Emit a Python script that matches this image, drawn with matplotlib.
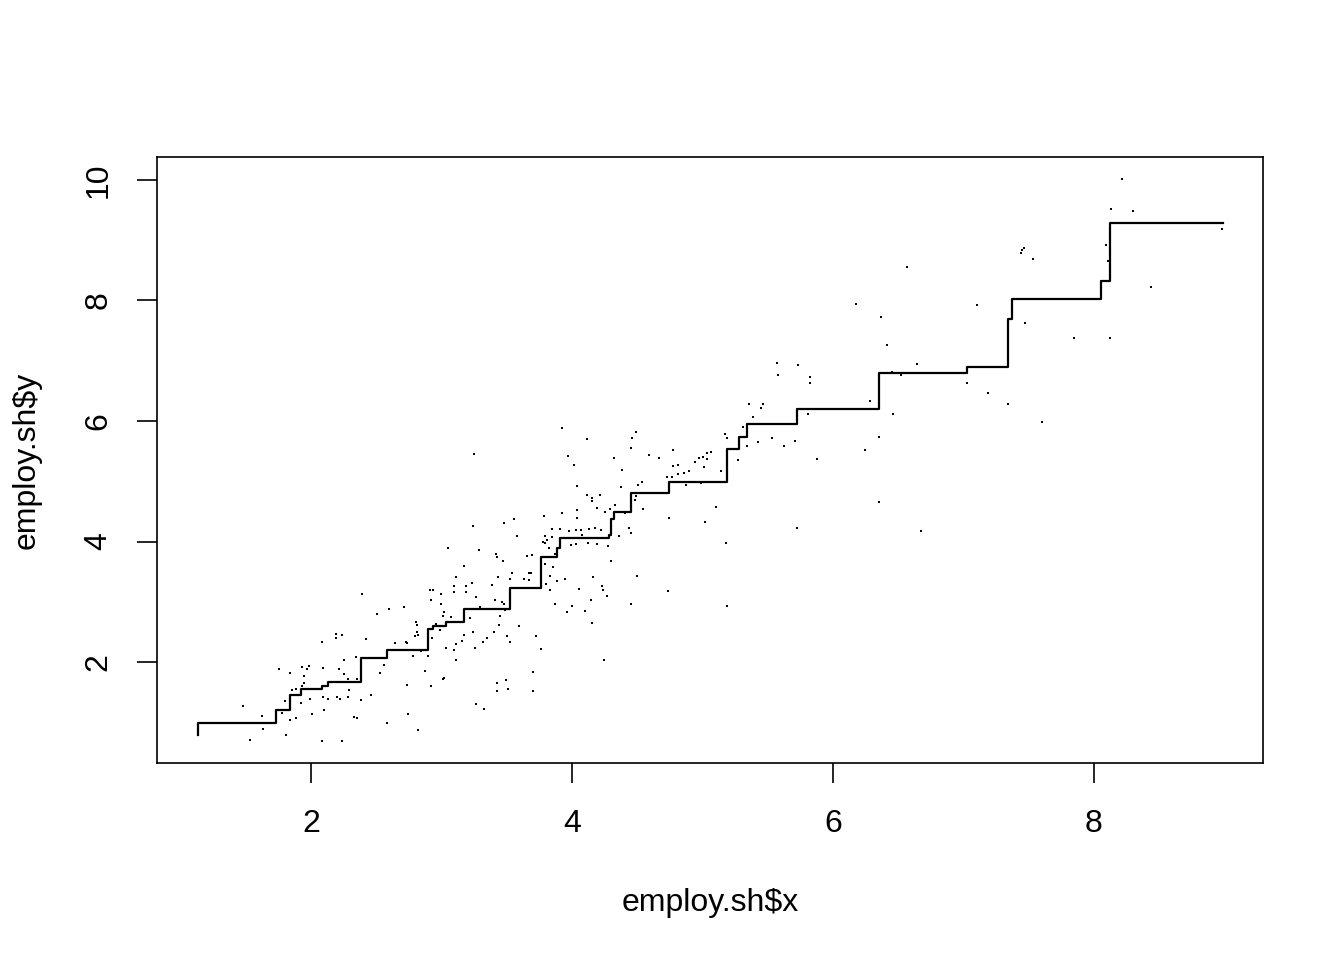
import numpy as np
import matplotlib.pyplot as plt

plt.rcParams['font.family'] = ['Liberation Sans', 'DejaVu Sans']

# --- scatter of employ.sh ---
pts = [
    # lower-left cloud
    (3.114, 3.416), (3.093, 3.267), (2.388, 3.134), (2.909, 3.201), (2.935, 3.201),
    (2.996, 3.134), (3.093, 3.162), (2.920, 3.035), (2.996, 2.968), (2.598, 2.880),
    (2.710, 2.913), (2.506, 2.802), (3.017, 2.830), (3.012, 2.758), (3.073, 2.747),
    (2.960, 2.631), (2.802, 2.669), (2.812, 2.620), (2.986, 2.537), (2.189, 2.470),
    (2.189, 2.404), (2.235, 2.448), (2.082, 2.338), (2.419, 2.382), (2.812, 2.504),
    (2.797, 2.437), (2.823, 2.454), (2.731, 2.338), (2.736, 2.321), (2.644, 2.310),
    (2.925, 2.403), (3.114, 2.304), (3.032, 2.238), (3.093, 2.205), (2.347, 2.089),
    (2.250, 2.033), (2.782, 2.105), (2.894, 2.105), (2.843, 2.188), (3.114, 2.028),
    (2.557, 1.950), (1.755, 1.889), (1.929, 1.923), (1.985, 1.939), (1.969, 1.884),
    (2.092, 1.906), (2.215, 1.889), (1.842, 1.817), (1.944, 1.768), (2.526, 1.823),
    (2.874, 1.856), (3.022, 1.740), (3.012, 1.718), (2.256, 1.801), (2.353, 1.718),
    (2.286, 1.718), (1.944, 1.657), (1.934, 1.602), (1.883, 1.552), (1.857, 1.535),
    (2.291, 1.541), (2.736, 1.618), (2.920, 1.602), (1.801, 1.353), (1.923, 1.320),
    (1.990, 1.391), (2.092, 1.414), (2.133, 1.391), (2.199, 1.419), (2.220, 1.391),
    (2.286, 1.425), (2.383, 1.369), (2.460, 1.447), (1.479, 1.275), (1.775, 1.154),
    (2.097, 1.203), (2.005, 1.137), (1.837, 1.043), (1.883, 1.076), (1.627, 1.109),
    (2.332, 1.093), (2.353, 1.071), (2.741, 1.137), (2.582, 0.988), (1.632, 0.882),
    (1.806, 0.794), (2.082, 0.694), (2.235, 0.689), (1.530, 0.705), (2.817, 0.871),
    # middle cloud
    (3.923, 5.890), (4.112, 5.707), (4.490, 5.823), (4.460, 5.724), (4.450, 5.558),
    (4.587, 5.442), (3.967, 5.425), (4.013, 5.276), (4.319, 5.392), (4.381, 5.193),
    (3.247, 5.458), (4.534, 4.993), (4.503, 4.944), (4.373, 4.910), (4.036, 4.927),
    (4.112, 4.778), (4.153, 4.728), (4.153, 4.678), (4.215, 4.778), (4.192, 4.562),
    (4.250, 4.496), (4.291, 4.545), (4.327, 4.612), (4.542, 4.545), (4.406, 4.479),
    (4.483, 4.695), (4.490, 4.761), (4.036, 4.523), (4.036, 4.396), (3.785, 4.429),
    (3.921, 4.468), (3.556, 4.379), (3.479, 4.313), (3.239, 4.258), (3.844, 4.213),
    (3.911, 4.213), (3.975, 4.180), (4.028, 4.197), (4.066, 4.197), (4.128, 4.213),
    (4.176, 4.230), (4.222, 4.197), (4.074, 4.114), (3.793, 4.097), (3.844, 4.081),
    (3.808, 4.031), (3.775, 3.998), (3.793, 3.976), (3.576, 4.097), (3.050, 3.898),
    (3.285, 3.865), (3.418, 3.798), (3.425, 3.749), (3.653, 3.765), (3.691, 3.782),
    (3.821, 3.898), (3.870, 3.798), (3.992, 3.948), (4.028, 3.964), (4.123, 3.981),
    (4.189, 3.964), (4.273, 3.931), (4.434, 4.230), (4.452, 4.147), (4.358, 4.097),
    (4.296, 3.682), (3.469, 3.682), (3.170, 3.599), (3.852, 3.583), (3.791, 3.633),
    (3.831, 3.433), (3.883, 3.350), (3.944, 3.383), (3.671, 3.483), (3.683, 3.483),
    (3.540, 3.483), (3.630, 3.383), (3.671, 3.361), (3.525, 3.383), (3.430, 3.417),
    (3.384, 3.284), (4.158, 3.417), (4.496, 3.433), (4.227, 3.267), (4.235, 3.201),
    (4.266, 3.101), (4.054, 3.217), (3.798, 3.301), (3.834, 3.201), (4.143, 3.035),
    (3.870, 2.969), (4.000, 2.935), (3.962, 2.836), (4.102, 2.852), (4.153, 2.653),
    (4.450, 2.969), (3.446, 2.769), (3.487, 2.869), (3.461, 3.002), (3.413, 3.035),
    (3.479, 2.969), (3.295, 2.919), (3.262, 3.085), (3.231, 3.317), (3.188, 3.267),
    (3.185, 3.168), (3.221, 2.736), (3.183, 2.886), (3.591, 2.603), (3.438, 2.620),
    (3.400, 2.504), (3.349, 2.404), (3.318, 2.338), (3.239, 2.504), (3.254, 2.238),
    (3.175, 2.454), (3.155, 2.355), (3.499, 2.437), (3.522, 2.338), (3.722, 2.437),
    (3.760, 2.222), (3.701, 1.840), (4.243, 2.028), (3.423, 1.657), (3.494, 1.707),
    (3.507, 1.547), (3.423, 1.525), (3.699, 1.525), (3.267, 1.298), (3.323, 1.226),
    # upper-middle cloud
    (5.571, 6.962), (5.732, 6.929), (5.576, 6.769), (5.821, 6.730), (5.821, 6.630),
    (5.356, 6.287), (5.464, 6.287), (5.446, 6.215), (5.385, 6.066), (5.310, 5.900),
    (5.170, 5.784), (5.185, 5.717), (5.425, 5.651), (5.533, 5.717), (5.625, 5.585),
    (5.711, 5.673), (5.341, 5.579), (5.275, 5.358), (5.877, 5.374), (5.808, 6.110),
    (4.774, 5.524), (4.667, 5.391), (4.774, 5.253), (4.812, 5.269), (4.971, 5.386),
    (5.004, 5.402), (5.032, 5.374), (5.037, 5.463), (5.063, 5.491), (4.943, 5.319),
    (5.012, 5.236), (4.894, 5.170), (4.856, 5.142), (4.810, 5.120), (4.766, 5.076),
    (4.728, 5.076), (5.142, 5.170), (4.874, 4.937), (4.989, 4.971), (5.101, 4.578),
    (5.019, 4.318), (4.746, 4.395), (5.183, 3.980), (5.724, 4.224), (4.736, 3.184),
    (5.185, 2.929),
    # upper-right sparse points
    (8.215, 10.017), (8.128, 9.519), (8.296, 9.480), (8.981, 9.187), (8.089, 8.921),
    (8.107, 8.661), (7.461, 8.877), (7.451, 8.844), (7.438, 8.794), (7.530, 8.689),
    (6.567, 8.556), (8.434, 8.224), (6.174, 7.947), (7.101, 7.925), (6.365, 7.732),
    (7.474, 7.627), (6.411, 7.262), (7.844, 7.383), (8.120, 7.383), (6.644, 6.952),
    (6.450, 6.813), (6.519, 6.763), (7.024, 6.636), (7.185, 6.470), (7.338, 6.288),
    (6.286, 6.338), (7.604, 5.989), (6.457, 6.116), (6.352, 5.740), (6.243, 5.513),
    (6.352, 4.661), (6.672, 4.180),
]
x_pts = [p[0] for p in pts]
y_pts = [p[1] for p in pts]

# --- monotone step fit ---
step_x = [1.132, 1.132, 1.734, 1.837, 1.923, 2.087, 2.128, 2.383, 2.582, 2.894,
          2.935, 3.032, 3.172, 3.525, 3.762, 3.883, 3.908, 4.284, 4.297, 4.322,
          4.454, 4.743, 5.188, 5.277, 5.341, 5.726, 6.352, 7.027, 7.341, 7.372,
          8.051, 8.123, 8.986]
step_y = [0.79, 0.99, 1.20, 1.45, 1.55, 1.60, 1.67, 2.07, 2.20, 2.54,
          2.59, 2.67, 2.88, 3.23, 3.75, 3.89, 4.05, 4.11, 4.37, 4.49,
          4.81, 4.98, 5.54, 5.73, 5.95, 6.20, 6.79, 6.90, 7.69, 8.02,
          8.32, 9.29, 9.29]

xticks = [2, 4, 6, 8]
yticks = [2, 4, 6, 8, 10]

fig = plt.figure(figsize=(13.44, 9.6), dpi=100)
ax = fig.add_axes([0.1168, 0.2052, 0.8229, 0.6313])

ax.plot(x_pts, y_pts, 's', ms=1.6, mew=0, color='black')
ax.step(step_x, step_y, where='post', color='black', lw=1.6)

ax.set_xlim(0.820, 9.295)
ax.set_ylim(0.324, 10.382)
ax.set_xticks(xticks)
ax.set_yticks(yticks)
ax.set_xticklabels([str(t) for t in xticks])
ax.set_yticklabels([str(t) for t in yticks], rotation=90, va='center')

for s in ax.spines.values():
    s.set_linewidth(1.2)
ax.tick_params(length=14.4, width=1.2, labelsize=23, pad=19)
ax.tick_params(axis='y', pad=17)

ax.set_xlabel('employ.sh$x', fontsize=23, labelpad=35)
ax.set_ylabel('employ.sh$y', fontsize=23, labelpad=30)

fig.savefig('out.png', dpi=100)
